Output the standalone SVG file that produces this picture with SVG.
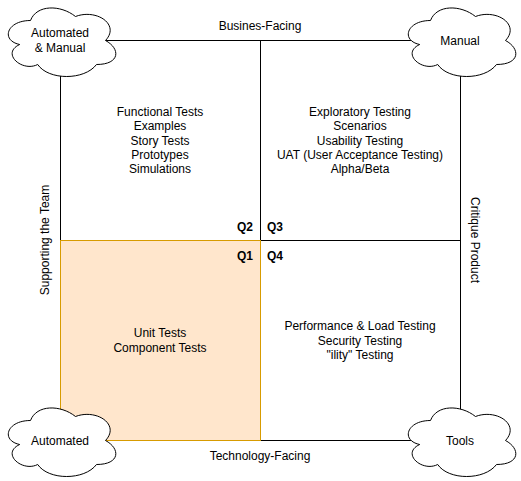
<svg xmlns="http://www.w3.org/2000/svg" width="521" height="481" viewBox="0 0 521 481">
<defs>
<style>
text{font-family:"Liberation Sans",Arial,Helvetica,sans-serif;font-size:12px;fill:#000;text-anchor:middle}
.b{font-weight:bold}
.line{stroke:#000;stroke-width:1;fill:none}
.cloud{fill:#fff;stroke:#000;stroke-width:1}
</style>
<path id="cl" d="M30 20 C6 20 0 40 19.2 44 C0 52.8 21.6 72 37.2 64 C48 80 84 80 96 64 C120 64 120 48 105 40 C120 24 96 8 75 16 C60 4 36 4 30 20 Z"/>
</defs>
<rect x="0" y="0" width="521" height="481" fill="#fff"/>
<g id="connectors">
<rect x="60.5" y="40.5" width="400" height="400" class="line"/>
<line x1="260.5" y1="40.5" x2="260.5" y2="440.5" class="line"/>
<line x1="60.5" y1="240.5" x2="460.5" y2="240.5" class="line"/>
</g>
<g id="q1">
<rect x="60.5" y="240.5" width="200" height="200" fill="#ffe6cc" stroke="#d79b00"/>
<text class="b" x="245" y="260">Q1</text>
<text x="160" y="337">Unit Tests</text>
<text x="160" y="352">Component Tests</text>
</g>
<g id="q2">
<text class="b" x="245" y="231">Q2</text>
<text x="160" y="116">Functional Tests</text>
<text x="160" y="130">Examples</text>
<text x="160" y="145">Story Tests</text>
<text x="160" y="159">Prototypes</text>
<text x="160" y="173">Simulations</text>
</g>
<g id="q3">
<text class="b" x="275" y="231">Q3</text>
<text x="360" y="116">Exploratory Testing</text>
<text x="360" y="130">Scenarios</text>
<text x="360" y="145">Usability Testing</text>
<text x="360" y="159">UAT (User Acceptance Testing)</text>
<text x="360" y="173">Alpha/Beta</text>
</g>
<g id="q4">
<text class="b" x="275" y="260">Q4</text>
<text x="360" y="330">Performance &amp; Load Testing</text>
<text x="360" y="345">Security Testing</text>
<text x="360" y="359">"ility" Testing</text>
</g>
<g id="labels">
<text x="260" y="30">Busines-Facing</text>
<text x="260" y="460">Technology-Facing</text>
<text transform="translate(49,240) rotate(-90)">Supporting the Team</text>
<text transform="translate(471,240) rotate(90)">Critique Product</text>
</g>
<g id="cloud-tl">
<use href="#cl" class="cloud" x="0.5" y="0.5"/>
<text x="60" y="37">Automated</text>
<text x="60" y="52">&amp; Manual</text>
</g>
<g id="cloud-tr">
<use href="#cl" class="cloud" x="400.5" y="0.5"/>
<text x="460" y="45">Manual</text>
</g>
<g id="cloud-bl">
<use href="#cl" class="cloud" x="0.5" y="400.5"/>
<text x="60" y="445">Automated</text>
</g>
<g id="cloud-br">
<use href="#cl" class="cloud" x="400.5" y="400.5"/>
<text x="460" y="445">Tools</text>
</g>
</svg>
